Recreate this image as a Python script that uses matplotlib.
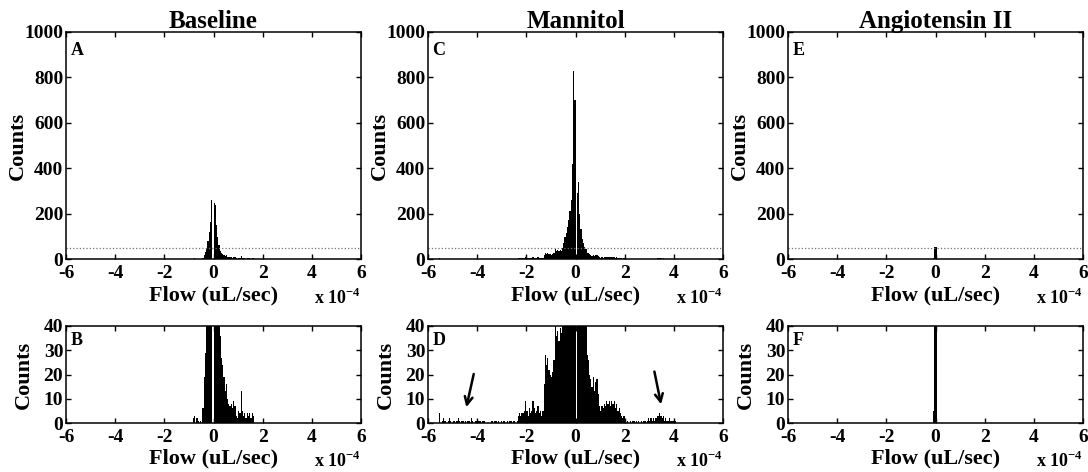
import numpy as np
import matplotlib
matplotlib.use("Agg")
import matplotlib.pyplot as plt

# -------------------------------
# 1. fonts (Times-like bold everywhere)
# -------------------------------
plt.rcParams['font.family'] = 'Liberation Serif'
plt.rcParams['font.weight'] = 'bold'
plt.rcParams['axes.titleweight'] = 'bold'
plt.rcParams['axes.labelweight'] = 'bold'
plt.rcParams['axes.unicode_minus'] = False
plt.rcParams['mathtext.fontset'] = 'custom'
plt.rcParams['mathtext.rm'] = 'Liberation Serif:bold'
plt.rcParams['mathtext.bf'] = 'Liberation Serif:bold'

# -------------------------------
# 2. data  (flow in units of 1e-4 uL/sec, histogram bin width 0.05)
# -------------------------------
BIN_WIDTH = 0.05

baseline_start = -0.85
baseline_counts = [2, 3, 0, 2, 1, 0, 1, 0, 6, 19,
                   29, 50, 78, 120, 165, 258, 0, 245, 238, 150,
                   98, 62, 36, 27, 24, 19, 13, 16, 10, 8,
                   7, 8, 6, 9, 7, 3, 2, 5, 4, 13,
                   5, 3, 4, 2, 4, 3, 4, 2, 4, 3]

mannitol_start = -5.55
mannitol_counts = [4, 0, 1, 2, 1, 1, 0, 1, 2, 1,
                   0, 1, 1, 0, 1, 2, 1, 0, 1, 1,
                   0, 1, 0, 1, 1, 0, 2, 1, 0, 1,
                   1, 0, 1, 1, 0, 1, 1, 0, 0, 0,
                   0, 0, 1, 1, 0, 1, 1, 0, 1, 0,
                   1, 0, 1, 1, 0, 1, 0, 1, 1, 0,
                   1, 1, 0, 1,
                   3, 4, 3, 4, 4, 5, 9, 5, 3, 6,
                   4, 5, 9, 6, 4, 5, 7, 4, 5, 3, 5,
                   16, 28, 24, 27, 22, 20, 19, 21, 26, 42,
                   36, 38, 34, 39, 37, 48, 70, 95, 115, 140,
                   170, 210, 260, 420, 830, 700, 0, 290, 340, 200,
                   130, 90, 70, 55, 45,
                   28, 26, 20, 18, 15, 19, 13, 17, 18, 12,
                   7, 5, 7, 6, 8, 7, 9, 8, 9, 7,
                   9, 8, 9, 6, 8, 5, 6, 4, 3, 2,
                   3, 1, 0, 1, 0, 1, 0, 1, 1, 0,
                   1, 0, 1, 0, 1, 0, 1, 1, 0, 1,
                   2, 1, 2, 1, 2, 1, 2, 3, 3, 4,
                   3, 2, 3, 1, 2, 1, 1, 2, 1, 1,
                   1, 1, 1]

angiotensin_start = -0.10
angiotensin_counts = [5, 54, 53]

titles = ["Baseline", "Mannitol", "Angiotensin II"]
top_letters = ["A", "C", "E"]
bottom_letters = ["B", "D", "F"]
x_ticks = [-6, -4, -2, 0, 2, 4, 6]
top_y_ticks = [0, 200, 400, 600, 800, 1000]
bottom_y_ticks = [0, 10, 20, 30, 40]
threshold = 50  # dotted reference line in the top row

# arrows in panel D: (tail, head) in data units
arrows_d = [((-4.14, 20.2), (-4.44, 6.5)),
            ((3.21, 21.2), (3.48, 7.7))]

# -------------------------------
# 3. figure / axes layout (pixels of the 1088x472 image)
# -------------------------------
W, H = 1088, 472
fig = plt.figure(figsize=(W / 100, H / 100), dpi=100)


def px_rect(x0, y0, x1, y1):
    return [x0 / W, 1 - y1 / H, (x1 - x0) / W, (y1 - y0) / H]


col_left = [66, 428, 788]
col_width = 295
all_starts = [baseline_start, mannitol_start, angiotensin_start]
all_counts = [baseline_counts, mannitol_counts, angiotensin_counts]


def style_axes(ax, yticks, ylim):
    ax.set_xlim(-6, 6)
    ax.set_ylim(*ylim)
    ax.set_xticks(x_ticks)
    ax.set_yticks(yticks)
    ax.tick_params(direction='in', top=True, right=True, length=3.5, width=1,
                   labelsize=14)
    ax.tick_params(axis='x', pad=4)
    ax.tick_params(axis='y', pad=2)
    for sp in ax.spines.values():
        sp.set_linewidth(1.1)


for i in range(3):
    counts = np.array(all_counts[i])
    edges = all_starts[i] + BIN_WIDTH * np.arange(len(counts) + 1)

    # --- top row: full range ---
    ax = fig.add_axes(px_rect(col_left[i], 32, col_left[i] + col_width, 259))
    ax.stairs(counts, edges, fill=True, color='black', linewidth=0)
    ax.axhline(threshold, color='0.45', linestyle=':', linewidth=0.9)
    style_axes(ax, top_y_ticks, (0, 1000))
    ax.set_title(titles[i], fontsize=18, pad=3)
    ax.set_ylabel("Counts", fontsize=16)
    ax.yaxis.set_label_coords(-0.128, 0.5)
    ax.set_xlabel("Flow (uL/sec)", fontsize=16)
    ax.xaxis.set_label_coords(0.5, -0.115)
    ax.text(0.015, 0.955, top_letters[i], transform=ax.transAxes,
            fontsize=13, ha='left', va='top')
    ax.text(1.0, -0.128, "x 10$^{\\mathbf{-4}}$", transform=ax.transAxes,
            fontsize=13, ha='right', va='top')

    # --- bottom row: zoom on low counts ---
    ax2 = fig.add_axes(px_rect(col_left[i], 326, col_left[i] + col_width, 423))
    ax2.stairs(counts, edges, fill=True, color='black', linewidth=0)
    style_axes(ax2, bottom_y_ticks, (0, 40))
    ax2.set_ylabel("Counts", fontsize=16)
    ax2.yaxis.set_label_coords(-0.108, 0.5)
    ax2.set_xlabel("Flow (uL/sec)", fontsize=16)
    ax2.xaxis.set_label_coords(0.5, -0.258)
    ax2.text(0.015, 0.94, bottom_letters[i], transform=ax2.transAxes,
             fontsize=13, ha='left', va='top')
    ax2.text(1.0, -0.29, "x 10$^{\\mathbf{-4}}$", transform=ax2.transAxes,
             fontsize=13, ha='right', va='top')

    if i == 1:
        for tail, head in arrows_d:
            ax2.annotate("", xy=head, xytext=tail,
                         arrowprops=dict(arrowstyle='->', lw=1.8, color='black',
                                         mutation_scale=14, shrinkA=0, shrinkB=0))

fig.savefig("out.png", dpi=100)
